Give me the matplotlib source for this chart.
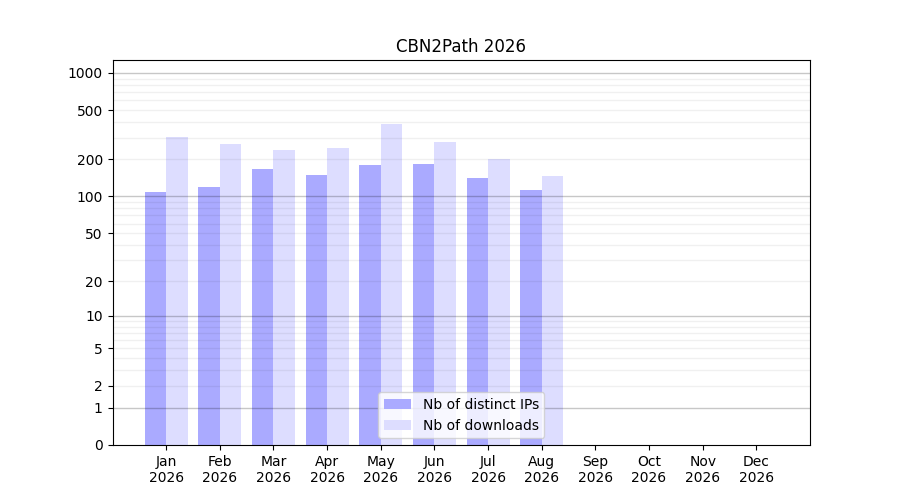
import numpy as np
import matplotlib
matplotlib.use("Agg")
import matplotlib.pyplot as plt

# Données
months = ["Jan", "Feb", "Mar", "Apr", "May", "Jun",
          "Jul", "Aug", "Sep", "Oct", "Nov", "Dec"]
year = "2026"
distinct_ips = [109, 120, 167, 150, 180, 184, 141, 113, 0, 0, 0, 0]
downloads = [304, 267, 238, 248, 387, 277, 201, 147, 0, 0, 0, 0]
y_ticks = [0, 1, 2, 5, 10, 20, 50, 100, 200, 500, 1000]


def forward(v):
    return np.log10(1 + np.clip(v, -0.999999, None))


def inverse(v):
    return 10 ** v - 1


x = np.arange(len(months))
width = 0.4

fig, ax = plt.subplots(figsize=(9, 5), dpi=100)
ax.bar(x - width / 2, distinct_ips, width, color="#aaaaff", label="Nb of distinct IPs")
ax.bar(x + width / 2, downloads, width, color="#ddddff", label="Nb of downloads")

ax.set_yscale("function", functions=(forward, inverse))
ax.set_ylim(0, 1270)
ax.set_xlim(-1, 12)
ax.set_yticks(y_ticks)
ax.set_yticklabels([str(t) for t in y_ticks])
ax.set_xticks(x)
ax.set_xticklabels([m + "\n" + year for m in months])

# grille : décades plus foncées, le reste très clair
minor = [m * 10 ** d for d in range(0, 3) for m in range(2, 10)]
for v in minor:
    ax.axhline(v, color="black", alpha=0.06, lw=1, zorder=3)
for v in [1, 10, 100, 1000]:
    ax.axhline(v, color="black", alpha=0.22, lw=1, zorder=3)

ax.set_title("CBN2Path 2026")
ax.legend(loc="lower center")
plt.savefig("out.png")
